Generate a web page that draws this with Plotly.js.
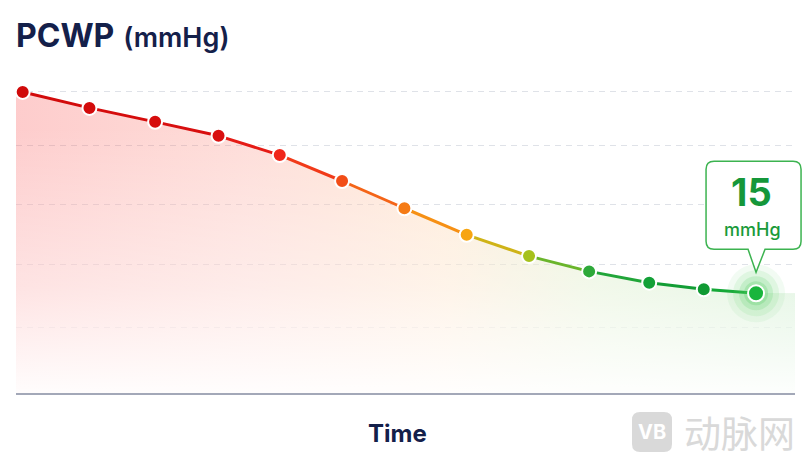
<!DOCTYPE html>
<html>
<head>
<meta charset="utf-8">
<script src="https://cdn.plot.ly/plotly-3.0.1.min.js"></script>
<style>html,body{margin:0;padding:0;background:#fff;}#chart{width:803px;height:462px;}</style>
</head>
<body>
<div id="chart"></div>
<script>
// ---- data ----
const time = [0.6, 6.6, 12.5, 18.2, 23.7, 29.3, 34.9, 40.5, 46.1, 51.5, 56.9, 61.8, 66.5];
const pcwp = [45.3, 42.9, 40.8, 38.7, 35.8, 31.9, 27.8, 23.8, 20.6, 18.3, 16.6, 15.6, 15.0];
const gridVals = [9.8, 19.4, 28.4, 37.3, 45.3];
const xRange = [0, 70];
const yRange = [0, 48];
const calloutValue = '15';
const calloutUnit = 'mmHg';
const titleMain = 'PCWP';
const titleUnit = '(mmHg)';
const xTitle = 'Time';
const watermarkLogo = 'VB';
const watermarkText = '动脉网';

// ---- styles ----
const pointColors = ['#d00a0a','#d30b0b','#d60d0d','#d91010','#f0261a','#f24d17','#f57b16','#f7a511','#a6c11c','#2ea93a','#13a037','#109a33','#1ab53c'];

function mix(a, b, t) {
  const pa = [1,3,5].map(i => parseInt(a.substr(i,2),16));
  const pb = [1,3,5].map(i => parseInt(b.substr(i,2),16));
  const c = pa.map((v,i) => Math.round(v + (pb[i]-v)*t));
  return 'rgb(' + c.join(',') + ')';
}

const n = time.length;
const last = n - 1;
const fillX = [xRange[0]].concat(time, [xRange[1]]);
const fillY = [pcwp[0]].concat(pcwp, [pcwp[last]]);

const traces = [];
// colored fill (horizontal gradient)
traces.push({
  x: fillX, y: fillY, type: 'scatter', mode: 'none', fill: 'tozeroy',
  fillgradient: {type: 'horizontal', start: xRange[0], stop: xRange[1],
    colorscale: [[0,'rgba(250,60,60,0.26)'],[0.3,'rgba(250,100,80,0.22)'],[0.55,'rgba(252,170,90,0.24)'],[0.75,'rgba(160,210,110,0.26)'],[1,'rgba(100,200,100,0.28)']]},
  hoverinfo: 'skip', showlegend: false
});
// white fade (vertical gradient)
traces.push({
  x: fillX, y: fillY, type: 'scatter', mode: 'none', fill: 'tozeroy',
  fillgradient: {type: 'vertical', start: 0, stop: 40,
    colorscale: [[0,'rgba(255,255,255,0.95)'],[0.4,'rgba(255,255,255,0.45)'],[1,'rgba(255,255,255,0)']]},
  hoverinfo: 'skip', showlegend: false
});
// line segments
for (let i = 0; i < last; i++) {
  traces.push({
    x: [time[i], time[i+1]], y: [pcwp[i], pcwp[i+1]], type: 'scatter', mode: 'lines',
    line: {color: mix(pointColors[i], pointColors[i+1], 0.5), width: 3},
    hoverinfo: 'skip', showlegend: false
  });
}
// glow at last point
[[58,'rgba(90,210,100,0.08)'],[46,'rgba(90,210,100,0.12)'],[34,'rgba(80,205,95,0.18)'],[24,'rgba(80,205,95,0.25)']].forEach(g => {
  traces.push({
    x: [time[last]], y: [pcwp[last]], type: 'scatter', mode: 'markers',
    marker: {size: g[0], color: g[1], opacity: 1, line: {width: 0}}, hoverinfo: 'skip', showlegend: false
  });
});
// points
traces.push({
  x: time, y: pcwp, type: 'scatter', mode: 'markers',
  marker: {size: time.map((t,i) => i === last ? 16 : 14), color: pointColors, opacity: 1, line: {color: '#ffffff', width: 2}},
  hoverinfo: 'skip', showlegend: false
});

const W = 779, H = 319;
const px = t => (t - xRange[0]) / (xRange[1] - xRange[0]);
const py = v => (v - yRange[0]) / (yRange[1] - yRange[0]);
const font = 'Inter, "Open Sans", sans-serif';
const layout = {
  width: 803, height: 462,
  margin: {l: 16, r: 8, t: 74, b: 69},
  paper_bgcolor: '#ffffff', plot_bgcolor: 'rgba(0,0,0,0)',
  showlegend: false,
  title: {
    text: '<b>' + titleMain + '</b> <span style="font-size:27px;font-weight:600">' + titleUnit + '</span>',
    font: {family: font, size: 32, color: '#14204a'},
    x: 0, xref: 'paper', xanchor: 'left', y: 1 - 36/462, yref: 'container', yanchor: 'middle'
  },
  xaxis: {
    range: xRange, showgrid: false, zeroline: false, showline: true, linecolor: '#a3a8b8', linewidth: 1.5,
    showticklabels: false, ticks: '', fixedrange: true
  },
  yaxis: {
    range: yRange, tickmode: 'array', tickvals: gridVals, showticklabels: false, ticks: '',
    showgrid: true, gridcolor: '#dfe2e8', gridwidth: 1, griddash: '6px,5px', zeroline: false, showline: false, fixedrange: true
  },
  shapes: [
    {type: 'path', xref: 'paper', yref: 'paper', xsizemode: 'pixel', ysizemode: 'pixel',
     xanchor: px(time[last]), yanchor: py(pcwp[last]),
     path: 'M -42,132 L 37,132 Q 45,132 45,124 L 45,52 Q 45,44 37,44 L 9,44 L 0,21 L -8,44 L -42,44 Q -50,44 -50,52 L -50,124 Q -50,132 -42,132 Z',
     fillcolor: '#ffffff', line: {color: '#3cb350', width: 1.5}, layer: 'above'},
    {type: 'path', xref: 'paper', yref: 'paper', xsizemode: 'pixel', ysizemode: 'pixel',
     xanchor: (652-16)/W, yanchor: (393-432)/H,
     path: 'M -12,20 L 12,20 Q 20,20 20,12 L 20,-12 Q 20,-20 12,-20 L -12,-20 Q -20,-20 -20,-12 L -20,12 Q -20,20 -12,20 Z',
     fillcolor: '#d9d9d9', line: {width: 0}, layer: 'above'}
  ],
  annotations: [
    {xref: 'x', yref: 'y', x: time[last], y: pcwp[last], xshift: -5, yshift: 101, showarrow: false,
     xanchor: 'center', yanchor: 'middle',
     text: '<b>' + calloutValue + '</b>', font: {family: font, size: 38, color: '#15973a'}},
    {xref: 'x', yref: 'y', x: time[last], y: pcwp[last], xshift: -4, yshift: 64, showarrow: false,
     xanchor: 'center', yanchor: 'middle',
     text: calloutUnit, font: {family: font, size: 18, color: '#1a9a3a', weight: 500}},
    {xref: 'paper', yref: 'paper', x: (397.5-16)/W, y: (393-433)/H, showarrow: false,
     xanchor: 'center', yanchor: 'middle',
     text: '<b>' + xTitle + '</b>', font: {family: font, size: 24, color: '#14204a'}},
    {xref: 'paper', yref: 'paper', x: (652-16)/W, y: (393-432)/H, showarrow: false,
     xanchor: 'center', yanchor: 'middle',
     text: '<b>' + watermarkLogo + '</b>', font: {family: font, size: 20, color: '#ffffff'}},
    {xref: 'paper', yref: 'paper', x: (739-16)/W, y: (393-432)/H, showarrow: false,
     xanchor: 'center', yanchor: 'middle',
     text: watermarkText, font: {family: '"Noto Sans CJK SC", sans-serif', size: 37, color: '#d9d9d9'}}
  ]
};

Plotly.newPlot('chart', traces, layout, {displayModeBar: false, staticPlot: true});
</script>
</body>
</html>
